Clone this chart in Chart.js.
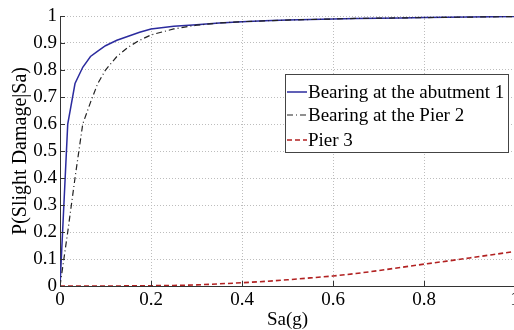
<!DOCTYPE html>
<html>
<head>
<meta charset="utf-8">
<script src="https://cdn.jsdelivr.net/npm/chart.js@4/dist/chart.umd.min.js"></script>
<style>
  html, body { margin: 0; padding: 0; background: #fff; overflow: hidden; }
  #wrap { width: 530px; height: 330px; }
</style>
</head>
<body>
<div id="wrap"><canvas id="fragilidade" width="530" height="330"></canvas></div>
<script>
var sa = [0, 0.017, 0.033, 0.05, 0.067, 0.083, 0.1, 0.125, 0.15, 0.175, 0.2, 0.25, 0.3, 0.35, 0.4,
  0.45, 0.5, 0.55, 0.6, 0.65, 0.7, 0.75, 0.8, 0.85, 0.9, 0.95, 1.0];
var abutment = [0, 0.6, 0.75, 0.81, 0.85, 0.87, 0.89, 0.91, 0.925, 0.94, 0.952, 0.962, 0.968, 0.974, 0.979,
  0.982, 0.985, 0.987, 0.989, 0.991, 0.992, 0.993, 0.994, 0.995, 0.996, 0.997, 0.998];
var pierBearing = [0, 0.2, 0.4, 0.6, 0.68, 0.75, 0.8, 0.85, 0.885, 0.91, 0.93, 0.952, 0.966, 0.974, 0.979,
  0.982, 0.985, 0.987, 0.989, 0.991, 0.992, 0.993, 0.994, 0.995, 0.996, 0.997, 0.998];
var pier = [0, 0, 0, 0, 0, 0, 0, 0, 0.0005, 0.001, 0.001, 0.002, 0.004, 0.008, 0.012,
  0.017, 0.023, 0.03, 0.037, 0.046, 0.057, 0.069, 0.081, 0.092, 0.104, 0.116, 0.128];
var seriesLabels = ["Bearing at the abutment 1", "Bearing at the Pier 2", "Pier 3"];

function pontos(ys) {
  return sa.map(function (x, i) { return { x: x, y: ys[i] }; });
}

// rotulo estilo matlab: 0, 0.1 ... 1
function rotulo(v) {
  return String(Math.round(v * 10) / 10);
}

var fonte = "'Liberation Serif', Tinos, 'Times New Roman', 'DejaVu Serif', serif";

// legenda desenhada a mao, estilo matlab
var legendaBox = {
  id: "legendaBox",
  afterDraw: function (chart) {
    var ctx = chart.ctx;
    ctx.save();
    ctx.fillStyle = "#fff";
    ctx.fillRect(285, 74, 223, 78);
    ctx.strokeStyle = "#444";
    ctx.lineWidth = 1;
    ctx.strokeRect(285.5, 74.5, 223, 78);
    var ys = [92, 115, 140];
    chart.data.datasets.forEach(function (ds, i) {
      ctx.beginPath();
      ctx.strokeStyle = ds.borderColor;
      ctx.lineWidth = ds.borderWidth;
      ctx.setLineDash(ds.borderDash || []);
      ctx.moveTo(287, ys[i]);
      ctx.lineTo(307, ys[i]);
      ctx.stroke();
      ctx.setLineDash([]);
      ctx.fillStyle = "#000";
      ctx.font = "19px " + fonte;
      ctx.textBaseline = "middle";
      ctx.fillText(ds.label, 308, ys[i] + 1);
    });
    ctx.restore();
  },
};

// ticks para dentro
var ticksDentro = {
  id: "ticksDentro",
  afterDatasetsDraw: function (chart) {
    var ctx = chart.ctx;
    var a = chart.chartArea;
    var sx = chart.scales.x, sy = chart.scales.y;
    ctx.save();
    ctx.strokeStyle = "#333";
    ctx.lineWidth = 1;
    ctx.beginPath();
    sx.ticks.forEach(function (t) {
      var px = Math.round(sx.getPixelForValue(t.value)) + 0.5;
      ctx.moveTo(px, a.bottom);
      ctx.lineTo(px, a.bottom - 5);
    });
    sy.ticks.forEach(function (t) {
      var py = Math.round(sy.getPixelForValue(t.value)) + 0.5;
      ctx.moveTo(a.left, py);
      ctx.lineTo(a.left + 5, py);
    });
    ctx.stroke();
    ctx.restore();
  },
};

var ctx1 = document.getElementById("fragilidade").getContext("2d");
var grafico = new Chart(ctx1, {
  type: "line",
  data: {
    datasets: [
      {
        label: seriesLabels[0],
        data: pontos(abutment),
        borderColor: "#2b2b9e",
        borderWidth: 1.5,
        order: 1,
      },
      {
        label: seriesLabels[1],
        data: pontos(pierBearing),
        borderColor: "#222",
        borderWidth: 1.2,
        borderDash: [6, 3, 1, 3],
        order: 0,
      },
      {
        label: seriesLabels[2],
        data: pontos(pier),
        borderColor: "#b22222",
        borderWidth: 1.6,
        borderDash: [5, 3],
        order: 2,
      },
    ],
  },
  options: {
    responsive: false,
    animation: false,
    devicePixelRatio: 1,
    layout: { padding: { top: 16, right: 15, left: 0, bottom: 0 } },
    elements: { point: { radius: 0 }, line: { tension: 0, fill: false } },
    plugins: { legend: { display: false }, tooltip: { enabled: false } },
    scales: {
      x: {
        type: "linear",
        min: 0,
        max: 1,
        afterFit: function (s) { s.height = 44; },
        ticks: { stepSize: 0.2, padding: 5, color: "#000", callback: rotulo, font: { family: fonte, size: 19, lineHeight: 1 } },
        grid: { color: "#bdbdbd", drawTicks: false },
        border: { color: "#333", dash: [1, 2] },
        title: { display: true, text: "Sa(g)", color: "#000", padding: 0, font: { family: fonte, size: 19, lineHeight: 1 } },
      },
      y: {
        min: 0,
        max: 1,
        afterFit: function (s) { s.width = 60; },
        ticks: { stepSize: 0.1, padding: 3, color: "#000", callback: rotulo, font: { family: fonte, size: 19, lineHeight: 1 } },
        grid: { color: "#bdbdbd", drawTicks: false },
        border: { color: "#333", dash: [1, 2] },
        title: { display: true, text: "P(Slight Damage|Sa)", color: "#000", padding: { top: 11, bottom: 0 }, font: { family: fonte, size: 20, lineHeight: 1 } },
      },
    },
  },
  plugins: [ticksDentro, legendaBox],
});
</script>
</body>
</html>
